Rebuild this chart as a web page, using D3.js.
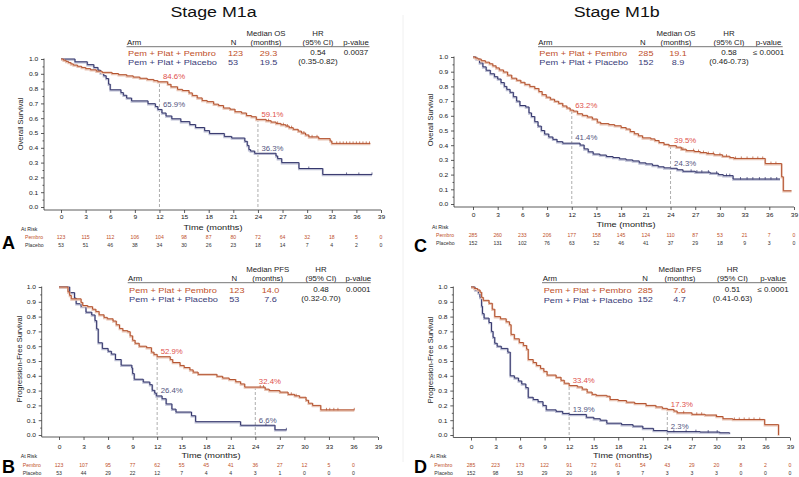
<!DOCTYPE html>
<html><head><meta charset="utf-8">
<script src="https://cdn.jsdelivr.net/npm/d3@7"></script>
<style>body{margin:0;background:#fff} svg{display:block;font-family:"Liberation Sans",Arial,Helvetica,sans-serif}</style>
</head><body>
<svg id="c" width="799" height="477"></svg>
<script>
// ---------------- DATA ----------------
const timeTicks = [0,3,6,9,12,15,18,21,24,27,30,33,36,39];
const survivalTicks = [0,0.1,0.2,0.3,0.4,0.5,0.6,0.7,0.8,0.9,1.0];
const minorSurvivalTicks = [0.05,0.15,0.25,0.35,0.45,0.55,0.65,0.75,0.85,0.95];
const armLabels = ["Pem + Plat + Pembro","Pem + Plat + Placebo"];
const atRiskRowLabels = ["Pembro","Placebo"];
const landmarkTimes = [12,24];

// Overall survival, M1a  [month, survival]
const osM1aPembro = [[0,1],[0.3,0.992],[0.6,0.984],[0.9,0.976],[1.2,0.967],[1.5,0.959],[2.0,0.951],[2.5,0.943],[3.0,0.935],[3.6,0.927],[4.3,0.918],[5.0,0.91],[6.2,0.902],[7.0,0.894],[8.0,0.886],[8.8,0.878],[9.6,0.87],[10.5,0.862],[11.3,0.854],[11.8,0.846],[13.0,0.829],[13.4,0.812],[14.2,0.795],[14.8,0.787],[15.6,0.771],[16.0,0.754],[16.6,0.737],[17.2,0.72],[17.8,0.712],[18.6,0.695],[19.2,0.686],[19.8,0.669],[20.6,0.661],[21.2,0.644],[22.0,0.635],[22.6,0.618],[23.2,0.61],[23.8,0.592],[25.0,0.583],[25.6,0.574],[26.2,0.565],[26.8,0.556],[27.4,0.547],[27.8,0.536],[28.3,0.525],[28.9,0.513],[29.3,0.5],[29.8,0.487],[30.2,0.474],[31.4,0.462],[32.8,0.446],[33.0,0.43],[37.7,0.43]];
const osM1aPlacebo = [[0,1],[1.7,0.981],[3.2,0.962],[4.0,0.943],[4.5,0.925],[4.8,0.906],[5.2,0.887],[5.5,0.868],[5.8,0.83],[6.0,0.792],[7.3,0.773],[7.6,0.755],[8.0,0.736],[8.6,0.717],[10.6,0.698],[11.5,0.679],[11.8,0.659],[12.3,0.635],[12.8,0.615],[13.5,0.596],[14.6,0.577],[15.7,0.557],[16.4,0.537],[17.5,0.516],[18.1,0.497],[19.9,0.477],[20.8,0.466],[22.4,0.444],[22.7,0.416],[22.9,0.388],[23.1,0.378],[23.6,0.363],[26.2,0.345],[26.4,0.327],[26.9,0.3],[29.0,0.26],[31.9,0.22],[37.9,0.22]];
const osM1aPembroCensor = [25.3,26.4,27.1,27.6,28.1,29.6,30.6,31.2,33.6,34.0,34.4,34.8,35.2,35.6,36.0,36.4,36.8,37.2,37.6];
const osM1aPlaceboCensor = [30.2,34.8,36.3,37.9];
const atRiskOsM1aPembro = [123,115,112,106,104,98,87,80,72,64,32,18,5,0];
const atRiskOsM1aPlacebo = [53,51,46,38,34,30,26,23,18,14,7,4,2,0];
const nOsM1a = ["123","53"];
const medianOsM1a = ["29.3","19.5"];
const hrOsM1a = ["0.54","(0.35-0.82)"];
const pOsM1a = "0.0037";
const landmarkOsM1aPembro = [84.6,59.1];
const landmarkOsM1aPlacebo = [65.9,36.3];

// Overall survival, M1b
const osM1bPembro = [[0,1],[0.3,0.993],[0.6,0.986],[1.0,0.975],[1.5,0.965],[2.0,0.954],[2.4,0.94],[2.8,0.926],[3.2,0.912],[3.7,0.898],[4.2,0.877],[4.7,0.856],[5.3,0.842],[5.8,0.828],[6.3,0.814],[6.9,0.8],[7.5,0.786],[8.0,0.765],[8.4,0.744],[8.9,0.727],[9.4,0.713],[9.9,0.699],[10.4,0.685],[10.9,0.667],[11.4,0.653],[11.8,0.639],[12.2,0.632],[12.7,0.614],[13.3,0.603],[13.9,0.592],[14.5,0.578],[15.1,0.557],[15.5,0.547],[16.5,0.54],[17.2,0.532],[18.0,0.52],[18.6,0.51],[19.1,0.493],[19.6,0.478],[20.1,0.464],[20.6,0.45],[21.6,0.443],[22.1,0.432],[22.6,0.418],[23.2,0.406],[23.8,0.397],[24.7,0.387],[25.3,0.373],[25.9,0.363],[26.9,0.357],[27.6,0.35],[28.4,0.343],[29.3,0.335],[30.3,0.325],[31.2,0.316],[31.7,0.31],[35.5,0.275],[37.5,0.185],[37.7,0.09],[38.7,0.09]];
const osM1bPlacebo = [[0,1],[0.4,0.987],[0.8,0.96],[1.2,0.933],[1.6,0.91],[2.1,0.886],[2.6,0.866],[3.0,0.85],[3.4,0.826],[3.8,0.8],[4.1,0.78],[4.5,0.76],[4.9,0.73],[5.3,0.7],[5.7,0.67],[6.4,0.66],[6.8,0.62],[7.1,0.595],[7.5,0.56],[7.9,0.53],[8.3,0.5],[8.7,0.476],[9.2,0.456],[9.7,0.44],[10.2,0.424],[10.9,0.414],[13.0,0.401],[13.5,0.375],[14.0,0.355],[14.6,0.34],[15.4,0.333],[16.2,0.323],[17.0,0.316],[17.8,0.307],[18.6,0.3],[19.4,0.293],[20.2,0.28],[21.0,0.273],[21.8,0.263],[22.5,0.253],[23.2,0.246],[24.0,0.243],[24.8,0.233],[25.5,0.223],[27.0,0.217],[28.8,0.21],[29.8,0.2],[30.4,0.193],[31.6,0.17],[37.3,0.17]];
const osM1bPembroCensor = [25.5,26.8,27.4,28.0,28.6,29.2,30.0,30.8,31.9,32.6,33.3,34.0,34.6,35.2,36.2,36.8];
const osM1bPlaceboCensor = [26.5,27.2,27.8,28.6,29.6,30.8,31.2,32.5,33.3,34.0,34.8,35.5,36.2,36.9];
const atRiskOsM1bPembro = [285,260,233,206,177,158,145,124,110,87,53,21,7,0];
const atRiskOsM1bPlacebo = [152,131,102,76,63,52,46,41,37,29,18,9,3,0];
const nOsM1b = ["285","152"];
const medianOsM1b = ["19.1","8.9"];
const hrOsM1b = ["0.58","(0.46-0.73)"];
const pOsM1b = "\u2264 0.0001";
const landmarkOsM1bPembro = [63.2,39.5];
const landmarkOsM1bPlacebo = [41.4,24.3];

// Progression-free survival, M1a
const pfsM1aPembro = [[0,1],[1.1,0.967],[1.3,0.943],[1.5,0.92],[2.7,0.896],[2.9,0.875],[3.5,0.867],[4.1,0.85],[4.5,0.835],[4.9,0.812],[5.5,0.795],[5.9,0.785],[6.6,0.77],[7.0,0.745],[7.4,0.72],[7.8,0.705],[8.4,0.698],[8.7,0.67],[9.0,0.64],[9.3,0.62],[9.8,0.6],[10.7,0.59],[11.3,0.56],[11.6,0.545],[12.0,0.529],[13.6,0.51],[13.9,0.49],[14.8,0.47],[15.3,0.456],[16.0,0.44],[16.4,0.425],[17.0,0.41],[19.3,0.397],[20.0,0.385],[20.8,0.375],[21.6,0.36],[22.2,0.345],[22.7,0.324],[25.2,0.31],[25.7,0.3],[27.0,0.29],[28.0,0.275],[28.8,0.265],[29.4,0.255],[30.2,0.235],[30.5,0.215],[31.0,0.2],[32.0,0.17],[36.1,0.17]];
const pfsM1aPlacebo = [[0,1],[1.3,0.962],[1.9,0.925],[2.1,0.887],[2.7,0.868],[3.3,0.83],[4.0,0.811],[4.4,0.773],[4.6,0.717],[4.8,0.623],[5.3,0.585],[6.0,0.566],[6.4,0.547],[6.9,0.51],[7.6,0.472],[8.9,0.453],[9.0,0.415],[9.2,0.377],[10.3,0.358],[11.1,0.34],[11.4,0.302],[11.7,0.283],[11.9,0.264],[12.6,0.245],[13.1,0.21],[13.8,0.175],[14.3,0.155],[16.2,0.13],[16.7,0.09],[22.2,0.066],[26.4,0.035],[27.8,0.035]];
const pfsM1aPembroCensor = [24.6,25.0,28.4,29.0,32.7,33.1,33.6,34.1,36.1];
const pfsM1aPlaceboCensor = [25.3,27.8];
const atRiskPfsM1aPembro = [123,107,95,77,62,55,45,41,36,27,12,5,0];
const atRiskPfsM1aPlacebo = [53,44,29,22,12,7,4,4,3,1,0,0,0];
const nPfsM1a = ["123","53"];
const medianPfsM1a = ["14.0","7.6"];
const hrPfsM1a = ["0.48","(0.32-0.70)"];
const pPfsM1a = "0.0001";
const landmarkPfsM1aPembro = [52.9,32.4];
const landmarkPfsM1aPlacebo = [26.4,6.6];

// Progression-free survival, M1b
const pfsM1bPembro = [[0,1],[0.4,0.99],[0.8,0.98],[1.1,0.965],[1.3,0.93],[1.5,0.91],[2.2,0.89],[2.6,0.85],[2.9,0.8],[3.6,0.785],[4.3,0.765],[4.7,0.745],[4.9,0.68],[5.3,0.65],[5.9,0.625],[6.4,0.605],[6.8,0.58],[7.0,0.51],[7.6,0.49],[8.0,0.47],[8.5,0.45],[8.9,0.43],[9.3,0.405],[10.4,0.39],[11.0,0.37],[11.4,0.35],[12.0,0.334],[13.0,0.325],[13.6,0.31],[14.2,0.29],[14.8,0.275],[15.3,0.268],[16.6,0.262],[17.0,0.24],[18.0,0.233],[19.0,0.222],[20.0,0.213],[21.4,0.2],[22.6,0.19],[23.4,0.18],[24.0,0.173],[24.8,0.162],[25.2,0.15],[27.0,0.14],[28.6,0.135],[30.0,0.125],[30.8,0.11],[32.0,0.105],[35.9,0.07],[37.6,0]];
const pfsM1bPlacebo = [[0,1],[0.5,0.98],[0.9,0.96],[1.1,0.93],[1.3,0.87],[1.4,0.82],[1.6,0.79],[2.2,0.76],[2.5,0.7],[2.7,0.66],[2.9,0.62],[3.2,0.6],[3.7,0.585],[4.5,0.56],[4.8,0.40],[5.3,0.385],[5.8,0.365],[6.2,0.345],[6.7,0.32],[7.0,0.255],[7.6,0.24],[8.2,0.225],[8.8,0.2],[9.2,0.17],[10.4,0.16],[11.2,0.146],[12.0,0.139],[14.1,0.12],[15.0,0.11],[15.8,0.1],[16.6,0.08],[18.4,0.07],[19.8,0.06],[21.0,0.045],[22.3,0.03],[24.0,0.023],[28.0,0.02],[30.4,0.015],[31.6,0.01]];
const pfsM1bPembroCensor = [26.0,27.6,28.2,30.0,32.2,32.8,33.4,34.0,34.6,35.3];
const pfsM1bPlaceboCensor = [24.8,26.3,27.5,29.0,30.1];
const atRiskPfsM1bPembro = [285,223,173,122,91,72,61,54,43,29,20,8,2,0];
const atRiskPfsM1bPlacebo = [152,98,53,29,20,16,9,7,3,3,3,0,0,0];
const nPfsM1b = ["285","152"];
const medianPfsM1b = ["7.6","4.7"];
const hrPfsM1b = ["0.51","(0.41-0.63)"];
const pPfsM1b = "\u2264 0.0001";
const landmarkPfsM1bPembro = [33.4,17.3];
const landmarkPfsM1bPlacebo = [13.9,2.3];

// ---------------- STYLE ----------------
const SX = 1.15;
const COL = {
  pem:'#b4532f', pemHalo:'#e8c4b4', pemText:'#c0502a', pemPct:'#e0504a',
  pla:'#33356b', plaHalo:'#bcbed3', plaText:'#3a3c78', plaPct:'#52547e',
  axis:'#333', text:'#222'
};
const svg = d3.select('#c');

function txt(parent, x, y, s, size, o = {}) {
  const rot = o.rotate ? ` rotate(${o.rotate})` : '';
  const t = parent.append('text')
    .attr('transform', `translate(${x},${y})${rot} scale(${o.sx ?? SX},1)`)
    .attr('font-size', size)
    .attr('dy', o.dy ?? '0.35em')
    .attr('text-anchor', o.anchor || 'start')
    .attr('fill', o.fill || COL.text)
    .text(s);
  if (o.weight) t.attr('font-weight', o.weight);
  return t;
}
function valAt(curve, t) {
  let v = curve[0][1];
  for (const [tt, s] of curve) { if (tt <= t) v = s; else break; }
  return v;
}

// separator
svg.append('line').attr('x1',403).attr('x2',403).attr('y1',15).attr('y2',462)
  .attr('stroke','#ececec').attr('stroke-width',0.8);

function drawPanel(P) {
  const g = svg.append('g');
  const x = d3.scaleLinear().domain([0,39]).range(P.xr);
  const y = d3.scaleLinear().domain([0,1]).range(P.yr);

  if (P.title) txt(g, P.title[0], P.title[1], P.title[2], 15.5, {anchor:'middle', dy:0, fill:'#111'});

  // axes
  const ya = g.append('g').attr('transform', `translate(${P.axX},0)`)
    .call(d3.axisLeft(y).tickValues(survivalTicks).tickFormat(d3.format('.1f')).tickSize(3).tickPadding(2));
  const ym = g.append('g').attr('transform', `translate(${P.axX},0)`)
    .call(d3.axisLeft(y).tickValues(minorSurvivalTicks).tickFormat('').tickSize(1.5));
  const xa = g.append('g').attr('transform', `translate(0,${P.axY})`)
    .call(d3.axisBottom(x).tickValues(timeTicks).tickSize(3).tickPadding(P.tickPad));
  [ya, ym, xa].forEach(a => {
    a.select('.domain').remove();
    a.attr('font-family', null).attr('font-size', 5.8);
    a.selectAll('line').attr('stroke', COL.axis).attr('stroke-width', 0.8);
    a.selectAll('text').attr('fill', COL.text).attr('transform', `scale(${SX},1)`);
  });
  g.append('path').attr('d', `M${P.axX},${y(1)-0.5}V${P.axY}H${x(39)}`)
    .attr('fill','none').attr('stroke',COL.axis).attr('stroke-width',0.8);

  txt(g, P.timeLbl[0], P.timeLbl[1], 'Time (months)', 8, {anchor:'middle'});
  txt(g, P.yLbl[0], P.yLbl[1], P.yTitle, 7.5, {anchor:'middle', rotate:-90, sx:1});

  // landmark dashed lines
  landmarkTimes.forEach((t, i) => {
    const top = Math.max(P.pemLand[i], P.plaLand[i]) / 100;
    g.append('line').attr('x1', x(t)).attr('x2', x(t)).attr('y1', y(0)).attr('y2', y(top))
      .attr('stroke','#999').attr('stroke-width',0.8).attr('stroke-dasharray','3,2');
  });

  // curves
  const line = d3.line().x(d => x(d[0])).y(d => y(d[1])).curve(d3.curveStepAfter);
  [[P.pla, P.plaCens, COL.pla, COL.plaHalo], [P.pem, P.pemCens, COL.pem, COL.pemHalo]].forEach(([c, cens, col, halo]) => {
    g.append('path').datum(c).attr('d', line).attr('fill','none').attr('stroke',halo)
      .attr('stroke-width',2).attr('transform','translate(0,0.8)');
    g.append('path').datum(c).attr('d', line).attr('fill','none').attr('stroke',col).attr('stroke-width',1);
    g.selectAll(null).data(cens).join('line')
      .attr('x1', t => x(t)).attr('x2', t => x(t))
      .attr('y1', t => y(valAt(c, t)) - 2).attr('y2', t => y(valAt(c, t)) + 0.5)
      .attr('stroke', col).attr('stroke-width', 0.7);
  });

  // landmark labels
  landmarkTimes.forEach((t, i) => {
    txt(g, x(t) + 3.5, y(P.pemLand[i] / 100) - 2.7, P.pemLand[i].toFixed(1) + '%', 6.8, {dy:0, fill:COL.pemPct});
    txt(g, x(t) + 3.5, y(P.plaLand[i] / 100) - 2.7, P.plaLand[i].toFixed(1) + '%', 6.8, {dy:0, fill:COL.plaPct});
  });

  // table
  const T = P.tab;
  txt(g, T.medHdr, T.h1, P.medLabel, 6.8, {anchor:'middle'});
  txt(g, T.hr, T.h1, 'HR', 6.8, {anchor:'middle'});
  txt(g, T.arm, T.h2, 'Arm', 6.8);
  txt(g, T.nHdr, T.h2, 'N', 6.8, {anchor:'middle'});
  txt(g, T.medHdr, T.h2, '(months)', 6.8, {anchor:'middle'});
  txt(g, T.hr, T.h2, '(95% CI)', 6.8, {anchor:'middle'});
  txt(g, T.p, T.h2, 'p-value', 6.8, {anchor:'middle'});
  g.append('line').attr('x1', T.l1).attr('x2', T.l2).attr('y1', T.h2 + 4).attr('y2', T.h2 + 4)
    .attr('stroke','#777').attr('stroke-width',1);
  const rows = [T.r1, T.r2];
  const rowCols = [COL.pemText, COL.plaText];
  armLabels.forEach((a, i) => {
    txt(g, T.arm + 1, rows[i], a, 8.0, {fill: rowCols[i]});
    txt(g, T.nVal, rows[i], P.n[i], 7.9, {fill: rowCols[i]});
    txt(g, T.medVal, rows[i], P.med[i], 7.9, {anchor:'middle', fill: rowCols[i]});
    txt(g, T.hr, rows[i] - 0.8, P.hr[i], 7, {anchor:'middle'});
  });
  txt(g, T.p, T.r1 - 0.8, P.p, 7, {anchor:'middle'});

  // at risk
  const A = P.risk;
  txt(g, A.x, A.y0, 'At Risk', 4.5);
  [[P.riskPem, COL.pemText], [P.riskPla, '#333']].forEach(([vals, col], i) => {
    const yy = i === 0 ? A.y1 : A.y2;
    txt(g, A.lx, yy, atRiskRowLabels[i], 4.5, {fill: col});
    g.selectAll(null).data(vals).join('text')
      .attr('transform', (d, j) => `translate(${x(timeTicks[j])},${yy}) scale(${SX},1)`)
      .attr('dy','0.35em').attr('text-anchor','middle').attr('font-size',4.5).attr('fill',col)
      .text(d => d);
  });

  // panel letter
  txt(g, P.letter[0], P.letter[1], P.letter[2], 19, {dy:0, sx:0.95, weight:'bold', fill:'#000'});
}

const panels = [
  { title:[213.5,16.5,'Stage M1a'], xr:[61,381], yr:[207,59], axX:44, axY:210, tickPad:1.8,
    timeLbl:[213,227], yLbl:[20,124], yTitle:'Overall Survival', medLabel:'Median OS',
    pem:osM1aPembro, pla:osM1aPlacebo, pemCens:osM1aPembroCensor, plaCens:osM1aPlaceboCensor,
    pemLand:landmarkOsM1aPembro, plaLand:landmarkOsM1aPlacebo,
    n:nOsM1a, med:medianOsM1a, hr:hrOsM1a, p:pOsM1a,
    riskPem:atRiskOsM1aPembro, riskPla:atRiskOsM1aPlacebo,
    tab:{arm:127, nHdr:233.5, nVal:228, medHdr:266, medVal:268.5, hr:318, p:356, h1:33.3, h2:42.7, l1:126.5, l2:369.5, r1:53.3, r2:62.5},
    risk:{x:21, y0:229, lx:25, y1:237.7, y2:245.5}, letter:[2,248.5,'A'] },
  { title:[616.7,16.5,'Stage M1b'], xr:[473,794], yr:[204,57], axX:454, axY:207, tickPad:3,
    timeLbl:[626,224], yLbl:[430,120], yTitle:'Overall Survival', medLabel:'Median OS',
    pem:osM1bPembro, pla:osM1bPlacebo, pemCens:osM1bPembroCensor, plaCens:osM1bPlaceboCensor,
    pemLand:landmarkOsM1bPembro, plaLand:landmarkOsM1bPlacebo,
    n:nOsM1b, med:medianOsM1b, hr:hrOsM1b, p:pOsM1b,
    riskPem:atRiskOsM1bPembro, riskPla:atRiskOsM1bPlacebo,
    tab:{arm:538.3, nHdr:642.7, nVal:638.3, medHdr:676, medVal:678, hr:729, p:768.5, h1:33.3, h2:42.7, l1:538, l2:782.7, r1:53.3, r2:62.3},
    risk:{x:432, y0:227.3, lx:436, y1:235.3, y2:243.3}, letter:[414,251.5,'C'] },
  { title:null, xr:[59,378], yr:[435,287], axX:41.7, axY:437, tickPad:5,
    timeLbl:[211,455], yLbl:[19,359], yTitle:'Progression-Free Survival', medLabel:'Median PFS',
    pem:pfsM1aPembro, pla:pfsM1aPlacebo, pemCens:pfsM1aPembroCensor, plaCens:pfsM1aPlaceboCensor,
    pemLand:landmarkPfsM1aPembro, plaLand:landmarkPfsM1aPlacebo,
    n:nPfsM1a, med:medianPfsM1a, hr:hrPfsM1a, p:pPfsM1a,
    riskPem:atRiskPfsM1aPembro, riskPla:atRiskPfsM1aPlacebo,
    tab:{arm:128, nHdr:234.3, nVal:229.3, medHdr:267.7, medVal:270.5, hr:321, p:358.3, h1:269.3, h2:278.7, l1:127.7, l2:370.7, r1:289.9, r2:299.3},
    risk:{x:20.7, y0:456.3, lx:22.7, y1:465.3, y2:473.7}, letter:[2,472.5,'B'] },
  { title:null, xr:[471,790], yr:[435,287], axX:453.3, axY:437.5, tickPad:4.5,
    timeLbl:[622.5,454.7], yLbl:[430,360], yTitle:'Progression-Free Survival', medLabel:'Median PFS',
    pem:pfsM1bPembro, pla:pfsM1bPlacebo, pemCens:pfsM1bPembroCensor, plaCens:pfsM1bPlaceboCensor,
    pemLand:landmarkPfsM1bPembro, plaLand:landmarkPfsM1bPlacebo,
    n:nPfsM1b, med:medianPfsM1b, hr:hrPfsM1b, p:pPfsM1b,
    riskPem:atRiskPfsM1bPembro, riskPla:atRiskPfsM1bPlacebo,
    tab:{arm:542.7, nHdr:645, nVal:637.7, medHdr:680, medVal:679.5, hr:732.5, p:773, h1:269.3, h2:278.7, l1:542, l2:786.7, r1:290.3, r2:299.7},
    risk:{x:430, y0:456.3, lx:434.3, y1:465.3, y2:473.7}, letter:[414,472.5,'D'] }
];
panels.forEach(drawPanel);
</script>
</body></html>
